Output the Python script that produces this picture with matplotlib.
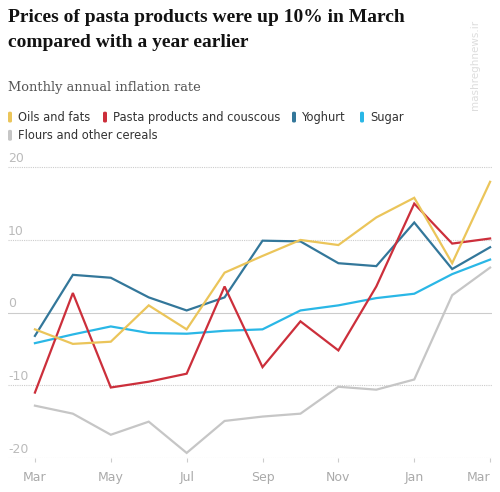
import numpy as np
import matplotlib.pyplot as plt
from matplotlib.patches import FancyBboxPatch
import matplotlib.transforms as mtransforms

months = ['Mar', 'Apr', 'May', 'Jun', 'Jul', 'Aug', 'Sep',
          'Oct', 'Nov', 'Dec', 'Jan', 'Feb', 'Mar']
tick_labels = ['Mar', 'May', 'Jul', 'Sep', 'Nov', 'Jan', 'Mar']
y_ticks = [20, 10, 0, -10, -20]

oils = [-2.3, -4.3, -4.0, 1.0, -2.3, 5.5, 7.8, 10.0, 9.3, 13.1, 15.8, 6.8, 18.0]
pasta = [-11.0, 2.7, -10.3, -9.5, -8.4, 3.6, -7.5, -1.2, -5.2, 3.6, 15.0, 9.5, 10.2]
yoghurt = [-3.2, 5.2, 4.8, 2.1, 0.3, 2.1, 9.9, 9.8, 6.8, 6.4, 12.4, 6.0, 9.0]
sugar = [-4.2, -3.0, -1.9, -2.8, -2.9, -2.5, -2.3, 0.3, 1.0, 2.0, 2.6, 5.3, 7.3]
flours = [-12.8, -13.9, -16.8, -15.0, -19.3, -14.9, -14.3, -13.9, -10.2, -10.6, -9.2, 2.4, 6.2]

names = ['Oils and fats', 'Pasta products and couscous', 'Yoghurt', 'Sugar',
         'Flours and other cereals']
series = [oils, pasta, yoghurt, sugar, flours]
colors = ['#ebc55a', '#cc2f3b', '#33779a', '#2ab7e6', '#c6c6c6']

fig = plt.figure(figsize=(5, 4.92), dpi=100)
ax = fig.add_axes([0.016, 0.0691, 0.968, 0.6057])

x = np.arange(len(months))
for vals, color in reversed(list(zip(series, colors))):
    ax.plot(x, vals, color=color, lw=1.6, solid_joinstyle='miter')

ax.set_xlim(-0.71, 12.05)
ax.set_ylim(-20, 21)

for s in ax.spines.values():
    s.set_visible(False)
ax.set_yticks([])
ax.set_xticks(x[::2])
ax.set_xticklabels(tick_labels, color='#aaaaaa', fontsize=9)
ax.get_xticklabels()[-1].set_horizontalalignment('right')
ax.tick_params(axis='x', length=3, color='#cccccc', pad=6)

trans = mtransforms.blended_transform_factory(ax.transAxes, ax.transData)
for v in y_ticks:
    if v == 0:
        ax.axhline(v, color='#cccccc', lw=0.8, zorder=0)
    else:
        ax.axhline(v, color='#cccccc', lw=0.8, ls=(0, (1, 1)), zorder=0)
    ax.text(0.0, v + 0.3, str(v), transform=trans, color='#bbbbbb',
            fontsize=9, ha='left', va='bottom')

# title and subtitle
fig.text(0.016, 0.982, 'Prices of pasta products were up 10% in March\ncompared with a year earlier',
         fontsize=14, fontweight='bold', family='Liberation Serif', color='#121212',
         va='top', ha='left', linespacing=1.6)
fig.text(0.016, 0.823, 'Monthly annual inflation rate', fontsize=9.4,
         family='DejaVu Serif', color='#555555', va='center', ha='left')

# legend
legend_pos = [(0.016, 0.762), (0.206, 0.762), (0.584, 0.762), (0.72, 0.762), (0.016, 0.725)]
for (lx, ly), name, color in zip(legend_pos, names, colors):
    fig.patches.append(FancyBboxPatch((lx, ly - 0.011), 0.008, 0.022,
                                      boxstyle='round,pad=0,rounding_size=0.003',
                                      transform=fig.transFigure, color=color, ec='none'))
    fig.text(lx + 0.02, ly, name, fontsize=8.3, color='#333333', va='center', ha='left')

# watermark
fig.text(0.95, 0.96, 'mashreghnews.ir', rotation=90, fontsize=7.5,
         color='#dddddd', va='top', ha='center')

fig.savefig('out.png', dpi=100)
